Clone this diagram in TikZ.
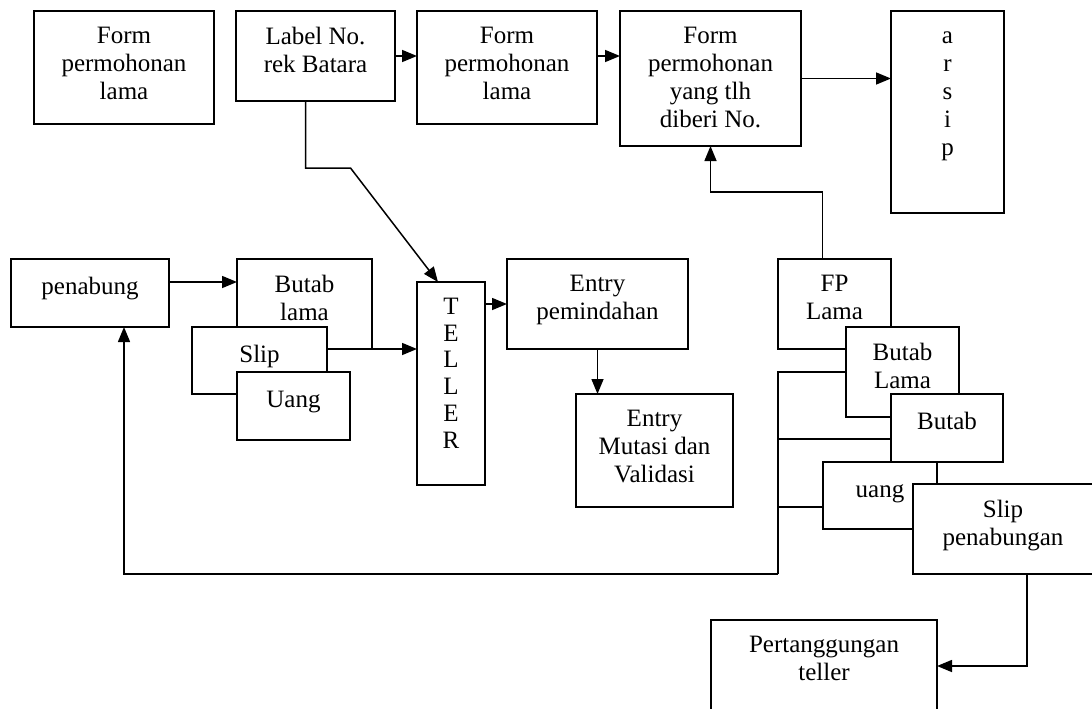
\documentclass[tikz,border=0pt]{standalone}
\usepackage{fontspec}
\setmainfont{Liberation Serif}
\usetikzlibrary{arrows.meta}

\begin{document}
\begin{tikzpicture}[x=1pt,y=-1pt,
  box/.style={draw,fill=white,line width=1.5pt,anchor=north west,
              inner sep=0pt,outer sep=0pt},
  txt/.style={anchor=north,inner sep=0pt,yshift=-16pt,align=center,
              font=\fontsize{25}{28}\selectfont,execute at begin node=\strut},
  arr/.style={-{Triangle[length=15pt,width=12pt]},line width=1.5pt},
  ln/.style={line width=1.5pt}
]
  \clip (0,0) rectangle (1092,709);
  \node[box,minimum width=180pt,minimum height=113pt,
        label={[txt]north:{Form\\permohonan\\lama}}] (formlama) at (34,11) {};
  \node[box,minimum width=159pt,minimum height=90pt,
        label={[txt]north:{Label No.\\rek Batara}}] (labelrek) at (236,11) {};
  \node[box,minimum width=180pt,minimum height=113pt,
        label={[txt]north:{Form\\permohonan\\lama}}] (formmid) at (417,11) {};
  \node[box,minimum width=181pt,minimum height=135pt,
        label={[txt]north:{Form\\permohonan\\yang tlh\\diberi No.}}] (formno) at (620,11) {};
  \node[box,minimum width=113pt,minimum height=202pt,
        label={[txt,yshift=-5pt]north:{a\\r\\s\\i\\p}}] (arsip) at (891,11) {};

  \node[box,minimum width=158pt,minimum height=68pt,
        label={[txt]north:{penabung}}] (penabung) at (11,259) {};
  \node[box,minimum width=135pt,minimum height=90pt,
        label={[txt]north:{Butab\\lama}}] (butablama) at (237,259) {};
  \node[box,minimum width=135pt,minimum height=67pt,
        label={[txt]north:{Slip}}] (slip) at (192,327) {};
  \node[box,minimum width=113pt,minimum height=68pt,
        label={[txt]north:{Uang}}] (uang) at (237,372) {};
  \node[box,minimum width=68pt,minimum height=203pt,
        label={[txt,font=\fontsize{25}{26.7}\selectfont]north:{T\\E\\L\\L\\E\\R}}] (teller) at (417,282) {};
  \node[box,minimum width=181pt,minimum height=90pt,
        label={[txt]north:{Entry\\pemindahan}}] (entrypind) at (507,259) {};
  \node[box,minimum width=157pt,minimum height=113pt,
        label={[txt]north:{Entry\\Mutasi dan\\Validasi}}] (entrymut) at (576,394) {};

  \node[box,minimum width=113pt,minimum height=90pt,
        label={[txt]north:{FP\\Lama}}] (fplama) at (778,259) {};
  \node[box,minimum width=113pt,minimum height=90pt,
        label={[txt]north:{Butab\\Lama}}] (butabLama) at (846,327) {};
  \node[box,minimum width=112pt,minimum height=68pt,
        label={[txt]north:{Butab}}] (butab) at (891,394) {};
  \node[box,minimum width=114pt,minimum height=67pt,
        label={[txt]north:{uang}}] (uangkas) at (823,462) {};
  \node[box,minimum width=180pt,minimum height=90pt,
        label={[txt]north:{Slip\\penabungan}}] (slippen) at (913,484) {};
  \node[box,minimum width=226pt,minimum height=92pt,
        label={[txt]north:{Pertanggungan\\teller}}] (tanggung) at (711,620) {};

  \coordinate (balik) at (fplama.west |- slippen.south);

  \draw[arr] (labelrek.east) -- (labelrek.east -| formmid.west);
  \draw[arr] (labelrek.east -| formmid.east) -- (labelrek.east -| formno.west);
  \draw[arr] (formno.east) -- (formno.east -| arsip.west);
  \draw[arr] ([xshift=-12pt]fplama.north) -- ++(0,-67) -| (formno.south);
  \draw[arr] ([xshift=-10pt]labelrek.south) -- ++(0,67) -- ++(45,0)
    -- ([xshift=21pt]teller.north west);
  \draw[arr] ([yshift=11pt]penabung.east) -- ([yshift=11pt]penabung.east -| butablama.west);
  \draw[arr] (butablama.south east -| slip.east) -- (butablama.south east -| teller.west);
  \draw[arr] (entrypind.west -| teller.east) -- (entrypind.west);
  \draw[arr] (entrypind.south) -- (entrypind.south |- entrymut.north);
  \draw[ln] (butabLama.west) -| (balik);
  \draw[ln] ([yshift=-11pt]butab.west) -- ([yshift=-11pt]butab.west -| balik);
  \draw[ln] ([yshift=-11.5pt]uangkas.west) -- ([yshift=-11.5pt]uangkas.west -| balik);
  \draw[arr] (balik) -| ([xshift=34pt]penabung.south);
  \draw[arr] ([xshift=24pt]slippen.south) |- (tanggung.east);
\end{tikzpicture}
\end{document}
